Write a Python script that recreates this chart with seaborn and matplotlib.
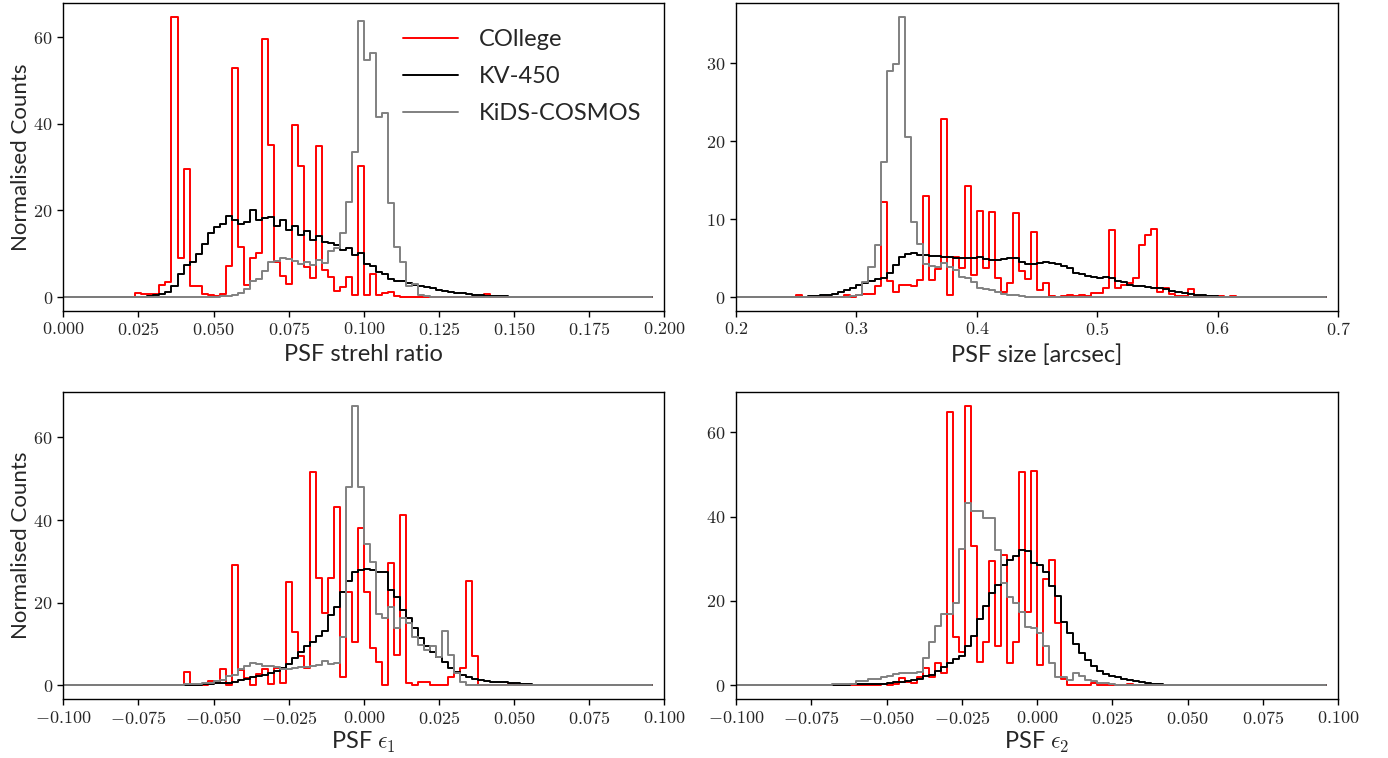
import numpy as np
import pandas as pd
import matplotlib
matplotlib.use("Agg")
import matplotlib.pyplot as plt
from matplotlib.lines import Line2D
from matplotlib.ticker import FuncFormatter, MultipleLocator
import seaborn as sns

RED = "#ff0000"
BLACK = "#000000"
GREY = "#808080"

N_BINS = 98

# PSF strehl ratio, bins of 0.002 from 0
strehl_lo, strehl_step = 0.0, 0.002
strehl_college_first = 12
strehl_college = [1.0, 0.6, 0.6, 0.6, 2.8, 3.5, 64.6, 9.0, 29.5, 2.5, 2.5, 0.8, 0.4, 0.2,
                  0.8, 7.2, 52.9, 11.5, 2.7, 9.0, 10.2, 59.5, 35.2, 8.1, 4.8, 2.9, 39.8,
                  30.2, 6.9, 4.5, 34.8, 6.3, 4.6, 1.5, 2.2, 4.6, 0.5, 30.2, 0.5, 5.2, 0.5,
                  1.0, 1.2, 0.15, 0.1, 0.1, 0.05, 0.05, 0.1, 0.05, 0.05, 0.05, 0.05, 0.05,
                  0.05, 0.05, 0.05, 0.05, 0.6]
strehl_kv_first = 14
strehl_kv = [0.2, 0.4, 0.6, 1.2, 2.5, 5.2, 7.3, 8.1, 10.0, 12.3, 14.8, 16.2, 16.8, 18.6,
             17.7, 16.8, 17.3, 20.2, 17.7, 18.3, 18.5, 16.3, 17.7, 15.5, 16.3, 14.4, 15.2,
             13.2, 14.0, 12.7, 12.5, 12.0, 10.8, 11.3, 9.8, 10.2, 7.7, 7.2, 5.8, 5.2, 4.2,
             3.8, 3.8, 3.2, 2.8, 2.5, 2.2, 2.0, 1.7, 1.4, 1.2, 1.0, 0.85, 0.7, 0.55, 0.45,
             0.35, 0.25, 0.2, 0.15, 0.1, 0.07, 0.05]
strehl_kc_first = 25
strehl_kc = [0.1, 0.15, 0.2, 0.4, 1.0, 1.9, 3.6, 4.2, 6.0, 8.1, 8.3, 9.1, 8.7, 8.3, 7.7,
             8.2, 7.3, 8.6, 7.8, 10.6, 11.3, 14.8, 21.9, 33.6, 63.7, 54.8, 56.3, 41.5,
             42.5, 21.8, 11.5, 8.1, 2.5, 3.1, 0.4, 0.15, 0.1, 0.05]

# PSF size, bins of 0.005 from 0.2
size_lo, size_step = 0.2, 0.005
size_college_first = 10
size_college = [0.3, 0, 0, 0, 0, 0, 0, 0, 0.25, 0.05, 0.2, 0.4, 0.4, 1.4, 12.2, 2.1, 0.7,
                1.6, 1.6, 1.4, 2.2, 12.9, 2.2, 3.6, 22.9, 0.3, 5.1, 3.7, 14.2, 2.8, 11.0,
                3.7, 10.9, 2.5, 0.6, 1.8, 10.8, 3.3, 2.3, 8.3, 0.85, 1.8, 0.1, 0.05, 0.1,
                0.2, 0.1, 0.2, 0.1, 0.55, 0.55, 1.1, 8.6, 1.2, 1.5, 1.8, 2.5, 6.7, 8.0, 8.7,
                0.7, 1.2, 0.4, 0.1, 0.1, 1.0, 0.1, 0.05, 0.1, 0.05, 0.1, 0.05, 0.1, 0.05]
size_kv_first = 12
size_kv = [0.1, 0.15, 0.2, 0.3, 0.45, 0.6, 0.85, 1.2, 1.5, 1.8, 2.1, 2.35, 2.5, 3.1, 4.1,
           5.1, 5.5, 5.6, 5.45, 5.4, 5.3, 5.25, 5.1, 5.1, 5.05, 5.05, 5.0, 5.0, 5.1, 4.9,
           4.8, 4.75, 4.9, 5.0, 4.95, 4.5, 4.3, 4.3, 4.4, 4.45, 4.4, 4.2, 4.0, 3.7, 3.1,
           2.9, 2.7, 2.6, 2.5, 2.6, 2.4, 2.1, 1.9, 1.6, 1.4, 1.4, 1.3, 1.2, 1.1, 1.0, 0.8,
           0.6, 0.5, 0.35, 0.25, 0.2, 0.12, 0.08, 0.05, 0.05, 0.05, 0.05, 0.05]
size_kc_first = 19
size_kc = [0.1, 0.25, 1.9, 3.8, 6.7, 17.3, 29.0, 29.9, 35.9, 20.5, 9.6, 6.8, 4.2, 4.0,
           3.8, 4.4, 3.8, 3.5, 2.6, 2.4, 1.9, 1.2, 1.0, 0.85, 0.64, 0.43, 0.3, 0.2, 0.1,
           0.05]

# PSF e1, bins of 0.002 from -0.1
e1_lo, e1_step = -0.1, 0.002
e1_college_first = 14
e1_college = [0.05, 0.1, 0.2, 0.1, 0.05, 0.05, 3.3, 0.0, 0.0, 0.1, 1.1, 0.6, 3.9, 0.0,
              29.0, 3.7, 1.7, 0.1, 2.7, 3.9, 0.3, 4.1, 0.6, 24.9, 12.8, 7.1, 4.1, 51.7,
              26.0, 17.6, 25.9, 43.2, 1.9, 22.5, 10.4, 38.0, 22.5, 9.1, 5.7, 0.1, 29.7,
              7.3, 41.2, 0.6, 0.1, 0.8, 0.8, 0.1, 0.1, 0.1, 2.1, 3.1, 4.1, 25.2, 7.2, 0.1,
              0.05, 0.05, 0.05, 0.05, 0.3, 0.05]
e1_kv_first = 18
e1_kv = [0.1, 0.15, 0.15, 0.2, 0.2, 0.25, 0.3, 0.5, 0.5, 0.65, 0.9, 1.3, 1.6, 1.9, 2.3,
         2.5, 3.1, 3.5, 4.1, 5.2, 6.7, 8.0, 9.4, 10.4, 12.0, 13.2, 17.0, 19.0, 22.5, 25.2,
         27.5, 27.9, 28.1, 27.9, 27.5, 27.5, 23.1, 21.3, 18.2, 16.2, 13.8, 11.4, 9.5, 8.1,
         6.9, 5.7, 4.1, 3.3, 2.5, 1.9, 1.5, 1.3, 1.05, 0.9, 0.8, 0.7, 0.55, 0.5, 0.4, 0.25,
         0.15, 0.15, 0.1, 0.1, 0.05, 0.05]
e1_kc_first = 17
e1_kc = [0.1, 0.2, 0.2, 0.3, 0.4, 0.4, 0.5, 0.65, 1.1, 1.3, 2.3, 2.5, 3.9, 4.8, 5.5, 5.2,
         4.7, 4.8, 4.4, 3.9, 4.0, 4.3, 4.5, 4.5, 4.8, 4.9, 6.0, 5.2, 5.5, 11.6, 48.0, 67.7,
         47.9, 34.2, 29.9, 17.3, 16.4, 18.9, 13.8, 16.2, 15.0, 11.8, 9.8, 8.5, 9.4, 6.9,
         13.2, 7.3, 2.9, 0.7, 0.15, 0.05, 0.05]

# PSF e2, bins of 0.002 from -0.1
e2_lo, e2_step = -0.1, 0.002
e2_college_first = 20
e2_college = [0.05, 0.1, 0.05, 0.1, 0.2, 0.1, 0.3, 1.7, 0.9, 0.6, 1.9, 4.0, 1.9, 5.4, 3.0,
              64.7, 11.5, 8.0, 66.3, 33.0, 5.6, 10.2, 29.5, 9.3, 30.8, 5.4, 10.3, 50.6,
              17.4, 50.9, 4.8, 25.3, 29.7, 14.7, 1.4, 0.1, 0.05, 0.05, 0.05, 0.5, 0.05,
              0.05, 0.05, 0.05, 0.05, 0.3, 0.05]
e2_kv_first = 14
e2_kv = [0.05, 0.1, 0.1, 0.15, 0.15, 0.2, 0.2, 0.25, 0.25, 0.3, 0.4, 0.6, 0.7, 0.9, 1.0,
         1.3, 1.5, 2.1, 2.4, 3.4, 4.3, 5.2, 6.2, 7.0, 9.4, 11.8, 15.7, 18.8, 21.8, 23.7,
         28.6, 29.7, 30.7, 32.0, 31.8, 28.9, 28.6, 26.9, 23.5, 21.2, 14.9, 12.3, 9.9, 7.6,
         6.0, 4.6, 3.4, 2.8, 2.3, 1.9, 1.5, 1.2, 0.95, 0.7, 0.55, 0.4, 0.25, 0.15, 0.1,
         0.05, 0.05]
e2_kc_first = 12
e2_kc = [0.05, 0.1, 0.1, 0.15, 0.2, 0.25, 0.3, 0.3, 1.1, 1.1, 1.4, 1.4, 1.9, 2.2, 2.7,
         3.0, 3.0, 3.0, 3.2, 6.4, 10.2, 14.0, 16.8, 16.8, 19.6, 32.2, 43.3, 41.3, 41.3,
         39.7, 39.7, 32.0, 24.3, 21.0, 19.6, 17.4, 13.9, 13.5, 12.3, 9.4, 5.2, 2.0, 1.9,
         1.3, 3.0, 2.2, 1.3, 1.0, 0.6, 0.5, 0.25, 0.15, 0.1, 0.05]

labels = ["COllege", "KV-450", "KiDS-COSMOS"]


def full_counts(first, vals):
    counts = np.zeros(N_BINS)
    counts[first:first + len(vals)] = vals
    return counts


def draw_panel(ax, lo, step, series):
    edges = lo + step * np.arange(N_BINS + 1)
    centres = 0.5 * (edges[:-1] + edges[1:])
    for (first, vals), col in zip(series, [RED, BLACK, GREY]):
        df = pd.DataFrame({"x": centres, "w": full_counts(first, vals)})
        # bins as a plain list: seaborn compares bins to "auto" when weights are given
        sns.histplot(data=df, x="x", weights="w", bins=edges.tolist(),
                     element="step", fill=False, color=col, linewidth=1.4, ax=ax)
    # let the y axis pad below zero like a plain step plot
    for ln in ax.lines:
        ln.sticky_edges.y.clear()
    ax.relim()
    ax.autoscale(axis="y")


sns.set_style("ticks")
plt.rcParams["font.family"] = ["Lato", "DejaVu Sans"]
plt.rcParams["mathtext.fontset"] = "cm"
plt.rcParams["axes.linewidth"] = 1.0

fig = plt.figure(figsize=(13.88, 7.58), dpi=100)
ax1 = fig.add_axes([0.0456, 0.5897, 0.4331, 0.406])
ax2 = fig.add_axes([0.5303, 0.5897, 0.4337, 0.406])
ax3 = fig.add_axes([0.0456, 0.0774, 0.4331, 0.406])
ax4 = fig.add_axes([0.5303, 0.0774, 0.4337, 0.406])

draw_panel(ax1, strehl_lo, strehl_step, [(strehl_college_first, strehl_college),
                                          (strehl_kv_first, strehl_kv),
                                          (strehl_kc_first, strehl_kc)])
draw_panel(ax2, size_lo, size_step, [(size_college_first, size_college),
                                      (size_kv_first, size_kv),
                                      (size_kc_first, size_kc)])
draw_panel(ax3, e1_lo, e1_step, [(e1_college_first, e1_college),
                                  (e1_kv_first, e1_kv),
                                  (e1_kc_first, e1_kc)])
draw_panel(ax4, e2_lo, e2_step, [(e2_college_first, e2_college),
                                  (e2_kv_first, e2_kv),
                                  (e2_kc_first, e2_kc)])

ax1.set_xlim(0.0, 0.2)
ax2.set_xlim(0.2, 0.7)
ax3.set_xlim(-0.1, 0.1)
ax4.set_xlim(-0.1, 0.1)

fmt3 = FuncFormatter(lambda v, p: f"${v:.3f}$")
fmt1 = FuncFormatter(lambda v, p: f"${v:.1f}$")
fmt0 = FuncFormatter(lambda v, p: f"${v:.0f}$")

for ax in [ax1, ax3, ax4]:
    ax.xaxis.set_major_locator(MultipleLocator(0.025))
    ax.xaxis.set_major_formatter(fmt3)
    ax.yaxis.set_major_locator(MultipleLocator(20))
ax2.xaxis.set_major_locator(MultipleLocator(0.1))
ax2.xaxis.set_major_formatter(fmt1)
ax2.yaxis.set_major_locator(MultipleLocator(10))

for ax in [ax1, ax2, ax3, ax4]:
    ax.yaxis.set_major_formatter(fmt0)
    ax.tick_params(labelsize=13, length=4, width=1.0, color="black")
    for sp in ax.spines.values():
        sp.set_visible(True)
        sp.set_color("black")
    ax.set_ylabel("")

ax1.set_xlabel("PSF strehl ratio", fontsize=17, labelpad=4)
ax2.set_xlabel("PSF size [arcsec]", fontsize=17, labelpad=4)
ax3.set_xlabel(r"PSF $\epsilon_1$", fontsize=17, labelpad=2)
ax4.set_xlabel(r"PSF $\epsilon_2$", fontsize=17, labelpad=2)
ax1.set_ylabel("Normalised Counts", fontsize=16, labelpad=2)
ax3.set_ylabel("Normalised Counts", fontsize=16, labelpad=2)

handles = [Line2D([], [], color=c, linewidth=1.4) for c in [RED, BLACK, GREY]]
ax1.legend(handles, labels, loc="upper right", bbox_to_anchor=(0.997, 0.985),
           frameon=False, fontsize=17, handlelength=2.3, handletextpad=0.9,
           labelspacing=0.68)

fig.savefig("out.png", dpi=100)
